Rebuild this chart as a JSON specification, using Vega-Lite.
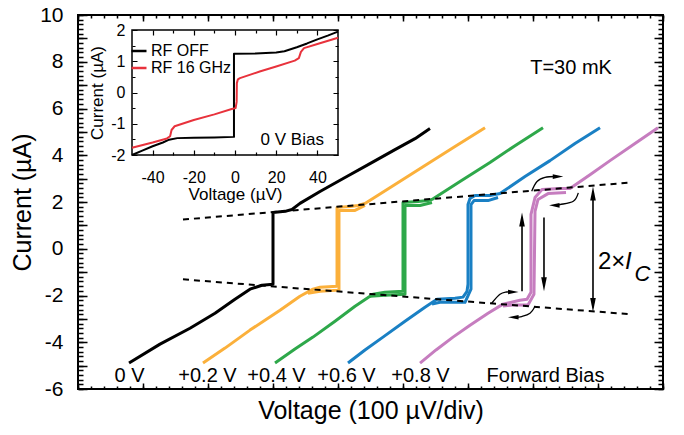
{
"$schema":"https://vega.github.io/schema/vega-lite/v6.json",
"width":585,"height":374,
"autosize":{"type":"none"},
"padding":{"left":78,"top":15,"right":21,"bottom":46},
"background":"white",
"config":{"view":{"stroke":"black","strokeWidth":2},"font":"Liberation Sans","axis":{"grid":false,"domain":false,"ticks":false,"tickSize":0,"gridColor":"black","gridOpacity":1,"labelColor":"black","titleColor":"black","titleFontWeight":"normal","labelFont":"Liberation Sans","titleFont":"Liberation Sans","labelOverlap":false,"labelFlush":false},"text":{"font":"Liberation Sans","color":"black"}},
"datasets":{
"curves":[
{"s":"0","t":"u","i":1,"v":78.5,"c":-4.89},{"s":"0","t":"u","i":2,"v":126.2,"c":-4.08},{"s":"0","t":"u","i":3,"v":172.3,"c":-3.4},{"s":"0","t":"u","i":4,"v":210.8,"c":-2.76},{"s":"0","t":"u","i":5,"v":241.5,"c":-2.16},{"s":"0","t":"u","i":6,"v":264.6,"c":-1.73},{"s":"0","t":"u","i":7,"v":283.1,"c":-1.56},{"s":"0","t":"u","i":8,"v":300,"c":-1.52},{"s":"0","t":"u","i":9,"v":300,"c":1.55},{"s":"0","t":"u","i":10,"v":318.5,"c":1.6},{"s":"0","t":"u","i":11,"v":329.2,"c":1.68},{"s":"0","t":"u","i":12,"v":341.5,"c":1.94},{"s":"0","t":"u","i":13,"v":372.3,"c":2.45},{"s":"0","t":"u","i":14,"v":410.8,"c":3.05},{"s":"0","t":"u","i":15,"v":449.2,"c":3.64},{"s":"0","t":"u","i":16,"v":487.7,"c":4.24},{"s":"0","t":"u","i":17,"v":518.5,"c":4.71},{"s":"0","t":"u","i":18,"v":541.5,"c":5.14},
{"s":"0.2","t":"u","i":1,"v":192.3,"c":-4.89},{"s":"0.2","t":"u","i":2,"v":226.2,"c":-4.25},{"s":"0.2","t":"u","i":3,"v":264.6,"c":-3.48},{"s":"0.2","t":"u","i":4,"v":310.8,"c":-2.63},{"s":"0.2","t":"u","i":5,"v":341.5,"c":-2.03},{"s":"0.2","t":"u","i":6,"v":361.5,"c":-1.73},{"s":"0.2","t":"u","i":7,"v":372.3,"c":-1.65},{"s":"0.2","t":"u","i":8,"v":398.5,"c":-1.6},{"s":"0.2","t":"u","i":9,"v":398.5,"c":1.77},{"s":"0.2","t":"u","i":10,"v":418.5,"c":1.81},{"s":"0.2","t":"u","i":11,"v":430.8,"c":1.85},{"s":"0.2","t":"u","i":12,"v":441.5,"c":1.94},{"s":"0.2","t":"u","i":13,"v":487.7,"c":2.75},{"s":"0.2","t":"u","i":14,"v":533.8,"c":3.56},{"s":"0.2","t":"u","i":15,"v":580,"c":4.37},{"s":"0.2","t":"u","i":16,"v":626.2,"c":5.18},
{"s":"0.2","t":"d","i":1,"v":441.5,"c":1.85},{"s":"0.2","t":"d","i":2,"v":426.2,"c":1.64},{"s":"0.2","t":"d","i":3,"v":401.5,"c":1.64},{"s":"0.2","t":"d","i":4,"v":401.5,"c":-1.77},{"s":"0.2","t":"d","i":5,"v":372.3,"c":-1.82},{"s":"0.2","t":"d","i":6,"v":353.8,"c":-1.9},
{"s":"0.4","t":"u","i":1,"v":303.1,"c":-4.89},{"s":"0.4","t":"u","i":2,"v":333.8,"c":-4.29},{"s":"0.4","t":"u","i":3,"v":361.5,"c":-3.78},{"s":"0.4","t":"u","i":4,"v":395.4,"c":-3.1},{"s":"0.4","t":"u","i":5,"v":426.2,"c":-2.46},{"s":"0.4","t":"u","i":6,"v":453.8,"c":-1.95},{"s":"0.4","t":"u","i":7,"v":472.3,"c":-1.86},{"s":"0.4","t":"u","i":8,"v":500,"c":-1.82},{"s":"0.4","t":"u","i":9,"v":500,"c":1.98},{"s":"0.4","t":"u","i":10,"v":523.1,"c":2.02},{"s":"0.4","t":"u","i":11,"v":538.5,"c":2.06},{"s":"0.4","t":"u","i":12,"v":544.6,"c":2.11},{"s":"0.4","t":"u","i":13,"v":587.7,"c":2.88},{"s":"0.4","t":"u","i":14,"v":633.8,"c":3.69},{"s":"0.4","t":"u","i":15,"v":672.3,"c":4.41},{"s":"0.4","t":"u","i":16,"v":715.4,"c":5.18},
{"s":"0.4","t":"d","i":1,"v":544.6,"c":1.98},{"s":"0.4","t":"d","i":2,"v":526.2,"c":1.85},{"s":"0.4","t":"d","i":3,"v":503.1,"c":1.85},{"s":"0.4","t":"d","i":4,"v":503.1,"c":-1.95},{"s":"0.4","t":"d","i":5,"v":472.3,"c":-1.99},{"s":"0.4","t":"d","i":6,"v":449.2,"c":-2.03},
{"s":"0.6","t":"u","i":1,"v":415.4,"c":-4.89},{"s":"0.6","t":"u","i":2,"v":441.5,"c":-4.33},{"s":"0.6","t":"u","i":3,"v":469.2,"c":-3.78},{"s":"0.6","t":"u","i":4,"v":503.1,"c":-3.1},{"s":"0.6","t":"u","i":5,"v":533.8,"c":-2.5},{"s":"0.6","t":"u","i":6,"v":552.3,"c":-2.16},{"s":"0.6","t":"u","i":7,"v":580,"c":-2.12},{"s":"0.6","t":"u","i":8,"v":592.3,"c":-2.07},{"s":"0.6","t":"u","i":9,"v":598.5,"c":-1.82},{"s":"0.6","t":"u","i":10,"v":600,"c":-1.52},{"s":"0.6","t":"u","i":11,"v":600,"c":1.89},{"s":"0.6","t":"u","i":12,"v":603.1,"c":2.15},{"s":"0.6","t":"u","i":13,"v":610.8,"c":2.28},{"s":"0.6","t":"u","i":14,"v":633.8,"c":2.28},{"s":"0.6","t":"u","i":15,"v":649.2,"c":2.36},{"s":"0.6","t":"u","i":16,"v":687.7,"c":3.09},{"s":"0.6","t":"u","i":17,"v":726.2,"c":3.77},{"s":"0.6","t":"u","i":18,"v":764.6,"c":4.5},{"s":"0.6","t":"u","i":19,"v":803.1,"c":5.18},
{"s":"0.6","t":"d","i":1,"v":646.2,"c":2.19},{"s":"0.6","t":"d","i":2,"v":630.8,"c":2.06},{"s":"0.6","t":"d","i":3,"v":609.2,"c":2.06},{"s":"0.6","t":"d","i":4,"v":604.6,"c":1.89},{"s":"0.6","t":"d","i":5,"v":604.6,"c":-1.73},{"s":"0.6","t":"d","i":6,"v":595.4,"c":-2.29},{"s":"0.6","t":"d","i":7,"v":556.9,"c":-2.29},{"s":"0.6","t":"d","i":8,"v":544.6,"c":-2.37},
{"s":"0.8","t":"u","i":1,"v":526.2,"c":-4.89},{"s":"0.8","t":"u","i":2,"v":550.8,"c":-4.33},{"s":"0.8","t":"u","i":3,"v":576.9,"c":-3.78},{"s":"0.8","t":"u","i":4,"v":603.1,"c":-3.27},{"s":"0.8","t":"u","i":5,"v":630.8,"c":-2.76},{"s":"0.8","t":"u","i":6,"v":653.8,"c":-2.37},{"s":"0.8","t":"u","i":7,"v":680,"c":-2.2},{"s":"0.8","t":"u","i":8,"v":690.8,"c":-2.16},{"s":"0.8","t":"u","i":9,"v":696.9,"c":-1.86},{"s":"0.8","t":"u","i":10,"v":696.9,"c":1.47},{"s":"0.8","t":"u","i":11,"v":703.1,"c":2.19},{"s":"0.8","t":"u","i":12,"v":713.8,"c":2.53},{"s":"0.8","t":"u","i":13,"v":741.5,"c":2.58},{"s":"0.8","t":"u","i":14,"v":756.9,"c":2.58},{"s":"0.8","t":"u","i":15,"v":787.7,"c":3.17},{"s":"0.8","t":"u","i":16,"v":818.5,"c":3.77},{"s":"0.8","t":"u","i":17,"v":856.9,"c":4.5},{"s":"0.8","t":"u","i":18,"v":892.3,"c":5.18},
{"s":"0.8","t":"d","i":1,"v":750.8,"c":2.41},{"s":"0.8","t":"d","i":2,"v":723.1,"c":2.36},{"s":"0.8","t":"d","i":3,"v":707.7,"c":2.11},{"s":"0.8","t":"d","i":4,"v":703.1,"c":1.6},{"s":"0.8","t":"d","i":5,"v":701.5,"c":-1.95},{"s":"0.8","t":"d","i":6,"v":692.3,"c":-2.41},{"s":"0.8","t":"d","i":7,"v":667.7,"c":-2.41},{"s":"0.8","t":"d","i":8,"v":653.8,"c":-2.45}
],
"dashes":[{"k":"a","v":161.5,"c":1.25},{"k":"a","v":849.2,"c":2.83},{"k":"b","v":161.5,"c":-1.31},{"k":"b","v":849.2,"c":-2.8}],
"shafts":[{"v":792.3,"c":2.45,"c2":-2.5},{"v":683.1,"c":-1.82,"c2":1.3},{"v":716.9,"c":1.34,"c2":-1.5}],
"heads":[{"v":792.3,"c":2.36,"d":"u"},{"v":792.3,"c":-2.41,"d":"d"},{"v":683.1,"c":1.25,"d":"u"},{"v":716.9,"c":-1.52,"d":"d"}],
"heads2":[{"v":738.5,"c":3.09,"d":"r"},{"v":732.8,"c":1.86,"d":"l"},{"v":669.7,"c":-1.85,"d":"r"},{"v":669.7,"c":-2.93,"d":"l"}],
"carrows":[
{"a":"1","i":1,"v":698,"c":2.46},{"a":"1","i":2,"v":706.2,"c":2.88},{"a":"1","i":3,"v":718.5,"c":3.05},{"a":"1","i":4,"v":735,"c":3.09},
{"a":"2","i":1,"v":769.7,"c":2.39},{"a":"2","i":2,"v":762,"c":2.03},{"a":"2","i":3,"v":741.5,"c":1.89},{"a":"2","i":4,"v":736,"c":1.86},
{"a":"3","i":1,"v":636.5,"c":-2.33},{"a":"3","i":2,"v":649.2,"c":-1.95},{"a":"3","i":3,"v":659.5,"c":-1.85},{"a":"3","i":4,"v":666,"c":-1.85},
{"a":"4","i":1,"v":703.1,"c":-2.47},{"a":"4","i":2,"v":695.4,"c":-2.76},{"a":"4","i":3,"v":682.6,"c":-2.9},{"a":"4","i":4,"v":673,"c":-2.93}
],
"blabels":[{"txt":"0 V","v":79.2,"c":-5.44},{"txt":"+0.2 V","v":199.2,"c":-5.44},{"txt":"+0.4 V","v":305.4,"c":-5.44},{"txt":"+0.6 V","v":413.1,"c":-5.44},{"txt":"+0.8 V","v":526.9,"c":-5.44},{"txt":"Forward Bias","v":719.2,"c":-5.44}],
"frame":[{"v":-50,"v2":50,"c":-2,"c2":2}],
"inset":[
{"s":"RF OFF","i":1,"v":-50,"c":-2.0},{"s":"RF OFF","i":2,"v":-45,"c":-1.86},{"s":"RF OFF","i":3,"v":-40,"c":-1.72},{"s":"RF OFF","i":4,"v":-35,"c":-1.6},{"s":"RF OFF","i":5,"v":-32,"c":-1.51},{"s":"RF OFF","i":6,"v":-28,"c":-1.46},{"s":"RF OFF","i":7,"v":-20,"c":-1.45},{"s":"RF OFF","i":8,"v":-10,"c":-1.44},{"s":"RF OFF","i":9,"v":-0.5,"c":-1.42},{"s":"RF OFF","i":10,"v":-0.5,"c":1.24},{"s":"RF OFF","i":11,"v":10,"c":1.25},{"s":"RF OFF","i":12,"v":20,"c":1.28},{"s":"RF OFF","i":13,"v":24,"c":1.32},{"s":"RF OFF","i":14,"v":30,"c":1.45},{"s":"RF OFF","i":15,"v":35,"c":1.57},{"s":"RF OFF","i":16,"v":40,"c":1.7},{"s":"RF OFF","i":17,"v":45,"c":1.82},{"s":"RF OFF","i":18,"v":50,"c":1.95},
{"s":"RF 16 GHz","i":1,"v":-50,"c":-1.77},{"s":"RF 16 GHz","i":2,"v":-40,"c":-1.6},{"s":"RF 16 GHz","i":3,"v":-33,"c":-1.47},{"s":"RF 16 GHz","i":4,"v":-31.5,"c":-1.4},{"s":"RF 16 GHz","i":5,"v":-30.8,"c":-1.2},{"s":"RF 16 GHz","i":6,"v":-29.3,"c":-1.08},{"s":"RF 16 GHz","i":7,"v":-20,"c":-0.88},{"s":"RF 16 GHz","i":8,"v":-10,"c":-0.7},{"s":"RF 16 GHz","i":9,"v":-1.6,"c":-0.53},{"s":"RF 16 GHz","i":10,"v":0.3,"c":-0.5},{"s":"RF 16 GHz","i":11,"v":0.8,"c":-0.3},{"s":"RF 16 GHz","i":12,"v":0.9,"c":0.3},{"s":"RF 16 GHz","i":13,"v":1.4,"c":0.42},{"s":"RF 16 GHz","i":14,"v":2.4,"c":0.46},{"s":"RF 16 GHz","i":15,"v":12,"c":0.67},{"s":"RF 16 GHz","i":16,"v":20,"c":0.83},{"s":"RF 16 GHz","i":17,"v":29,"c":1.02},{"s":"RF 16 GHz","i":18,"v":31,"c":1.1},{"s":"RF 16 GHz","i":19,"v":32,"c":1.3},{"s":"RF 16 GHz","i":20,"v":33.5,"c":1.42},{"s":"RF 16 GHz","i":21,"v":40,"c":1.55},{"s":"RF 16 GHz","i":22,"v":50,"c":1.75}
]
},
"layer":[
{"layer":[
 {"data":{"name":"curves"},"mark":{"type":"line","strokeWidth":3,"strokeJoin":"round"},
  "encoding":{
   "x":{"field":"v","type":"quantitative","scale":{"domain":[0,900],"nice":false,"zero":false},
     "axis":{"orient":"bottom","values":[0,100,200,300,400,500,600,700,800,900],"labels":false,
       "grid":true,"gridDash":[6,362,6,1000],"gridWidth":1.5,"gridColor":"black",
       "title":"Voltage (100 µV/div)","titleFontSize":25,"titlePadding":9}},
   "y":{"field":"c","type":"quantitative","scale":{"domain":[-6,10],"nice":false,"zero":false},
     "axis":{"orient":"left","values":[-6,-5,-4,-3,-2,-1,0,1,2,3,4,5,6,7,8,9,10],
       "grid":true,"gridDash":[9,567,9,1000],"gridWidth":1.5,"gridColor":"black",
       "labelExpr":"datum.value % 2 == 0 ? ''+datum.value : ''","labelFontSize":21,"labelPadding":15,
       "title":"Current (µA)","titleFontSize":25,"titlePadding":4}},
   "color":{"field":"s","type":"nominal","scale":{"domain":["0","0.2","0.4","0.6","0.8"],"range":["#000000","#fbb03b","#2ea84a","#1a80c4","#c67dbf"]},"legend":null},
   "detail":{"field":"t"},
   "order":{"field":"i","type":"quantitative"}}},
 {"data":{"name":"dashes"},"mark":{"type":"line","strokeDash":[6,5],"strokeWidth":2,"color":"black"},
  "encoding":{
   "x":{"field":"v","type":"quantitative","scale":{"domain":[0,900],"nice":false,"zero":false},
     "axis":{"orient":"top","values":[0,20,40,60,80,100,120,140,160,180,200,220,240,260,280,300,320,340,360,380,400,420,440,460,480,500,520,540,560,580,600,620,640,660,680,700,720,740,760,780,800,820,840,860,880,900],
       "grid":true,"gridDash":[3,368,3,1000],"gridWidth":1.5,"gridColor":"black","labels":false,"title":null}},
   "y":{"field":"c","type":"quantitative","scale":{"domain":[-6,10],"nice":false,"zero":false},
     "axis":{"orient":"right","values":[-6,-5.8,-5.6,-5.4,-5.2,-5,-4.8,-4.6,-4.4,-4.2,-4,-3.8,-3.6,-3.4,-3.2,-3,-2.8,-2.6,-2.4,-2.2,-2,-1.8,-1.6,-1.4,-1.2,-1,-0.8,-0.6,-0.4,-0.2,0,0.2,0.4,0.6,0.8,1,1.2,1.4,1.6,1.8,2,2.2,2.4,2.6,2.8,3,3.2,3.4,3.6,3.8,4,4.2,4.4,4.6,4.8,5,5.2,5.4,5.6,5.8,6,6.2,6.4,6.6,6.8,7,7.2,7.4,7.6,7.8,8,8.2,8.4,8.6,8.8,9,9.2,9.4,9.6,9.8,10],
       "grid":true,"gridDash":[5,575,5,1000],"gridWidth":1.5,"gridColor":"black","labels":false,"title":null}},
   "detail":{"field":"k"}}},
 {"data":{"name":"shafts"},"mark":{"type":"rule","strokeWidth":1.6,"color":"black"},
  "encoding":{"x":{"field":"v","type":"quantitative","axis":null},"y":{"field":"c","type":"quantitative","axis":null},"y2":{"field":"c2"}}},
 {"data":{"name":"heads"},"mark":{"type":"point","filled":true,"opacity":1,"color":"black","size":196,"strokeWidth":0},
  "encoding":{"x":{"field":"v","type":"quantitative","axis":null},"y":{"field":"c","type":"quantitative","axis":null},
   "shape":{"field":"d","type":"nominal","scale":{"domain":["u","d","r","l"],"range":["M0,-1L-0.4,1L0.4,1Z","M0,1L-0.4,-1L0.4,-1Z","M1,0L-1,-0.45L-1,0.45Z","M-1,0L1,-0.45L1,0.45Z"]},"legend":null}}},
 {"data":{"name":"heads2"},"mark":{"type":"point","filled":true,"opacity":1,"color":"black","size":110,"strokeWidth":0},
  "encoding":{"x":{"field":"v","type":"quantitative","axis":null},"y":{"field":"c","type":"quantitative","axis":null},
   "shape":{"field":"d","type":"nominal","legend":null}}},
 {"data":{"name":"carrows"},"mark":{"type":"line","interpolate":"cardinal","strokeWidth":1.3,"color":"black"},
  "encoding":{"x":{"field":"v","type":"quantitative","axis":null},"y":{"field":"c","type":"quantitative","axis":null},"detail":{"field":"a"},"order":{"field":"i","type":"quantitative"}}},
 {"data":{"name":"blabels"},"mark":{"type":"text","fontSize":20,"align":"center","baseline":"middle"},
  "encoding":{"x":{"field":"v","type":"quantitative","axis":null},"y":{"field":"c","type":"quantitative","axis":null},"text":{"field":"txt"}}},
 {"data":{"values":[{"txt":"T=30 mK","v":758.5,"c":7.74}]},"mark":{"type":"text","fontSize":20,"align":"center","baseline":"middle"},
  "encoding":{"x":{"field":"v","type":"quantitative","axis":null},"y":{"field":"c","type":"quantitative","axis":null},"text":{"field":"txt"}}},
 {"data":{"values":[{"txt":"2×","v":800,"c":-0.88}]},"mark":{"type":"text","fontSize":24,"align":"left","baseline":"alphabetic"},
  "encoding":{"x":{"field":"v","type":"quantitative","axis":null},"y":{"field":"c","type":"quantitative","axis":null},"text":{"field":"txt"}}},
 {"data":{"values":[{"txt":"I","v":841.5,"c":-0.88}]},"mark":{"type":"text","fontSize":24,"fontStyle":"italic","align":"left","baseline":"alphabetic"},
  "encoding":{"x":{"field":"v","type":"quantitative","axis":null},"y":{"field":"c","type":"quantitative","axis":null},"text":{"field":"txt"}}},
 {"data":{"values":[{"txt":"C","v":856,"c":-1.39}]},"mark":{"type":"text","fontSize":22,"fontStyle":"italic","align":"left","baseline":"alphabetic"},
  "encoding":{"x":{"field":"v","type":"quantitative","axis":null},"y":{"field":"c","type":"quantitative","axis":null},"text":{"field":"txt"}}}
],
"resolve":{"axis":{"x":"independent","y":"independent"}}},
{"layer":[
 {"data":{"name":"frame"},"mark":{"type":"rect","fill":null,"stroke":"black","strokeWidth":1.5},
  "encoding":{
   "x":{"field":"v","type":"quantitative","scale":{"domain":[-50,50],"range":[54,260],"nice":false,"zero":false},
     "axis":{"orient":"bottom","offset":-234,"values":[-40,-20,0,20,40],
       "labelExpr":"''+datum.value","labelFontSize":16,"labelPadding":14,
       "title":"Voltage (µV)","titleFontSize":17,"titlePadding":1}},
   "x2":{"field":"v2"},
   "y":{"field":"c","type":"quantitative","scale":{"domain":[-2,2],"range":[140,15],"nice":false,"zero":false},
     "axis":{"orient":"left","offset":-54,"values":[-2,-1,0,1,2],
       "grid":true,"gridDash":[5,196,5,1000],"gridWidth":1.2,"gridColor":"black",
       "labelExpr":"''+datum.value","labelFontSize":16,"labelPadding":7,
       "title":"Current (µA)","titleFontSize":17,"titlePadding":4}},
   "y2":{"field":"c2"}}},
 {"data":{"name":"inset"},"mark":{"type":"line","strokeWidth":2,"strokeJoin":"round"},
  "encoding":{
   "x":{"field":"v","type":"quantitative","scale":{"domain":[-50,50],"range":[54,260],"nice":false,"zero":false},
     "axis":{"orient":"top","values":[-40,-20,0,20,40],"grid":true,"gridDash":[5,115,5,1000],"gridWidth":1.2,"gridColor":"black","labels":false,"title":null}},
   "y":{"field":"c","type":"quantitative","scale":{"domain":[-2,2],"range":[140,15],"nice":false,"zero":false},
     "axis":{"orient":"left","values":[-1.5,-0.5,0.5,1.5],"grid":true,"gridDash":[3,200,3,1000],"gridWidth":1.2,"gridColor":"black","labels":false,"title":null}},
   "color":{"field":"s","type":"nominal","scale":{"domain":["RF OFF","RF 16 GHz"],"range":["#000000","#e8323c"]},
     "legend":{"orient":"none","legendX":52,"legendY":27,"title":null,"symbolType":"stroke","symbolSize":225,"symbolStrokeWidth":2.5,"labelFontSize":16,"labelFont":"Liberation Sans","labelColor":"black","labelOffset":3,"rowPadding":0,"padding":0}},
   "order":{"field":"i","type":"quantitative"}}},
 {"data":{"values":[{"txt":"0 V Bias","v":27.8,"c":-1.51}]},"mark":{"type":"text","fontSize":17,"align":"center","baseline":"middle"},
  "encoding":{
   "x":{"field":"v","type":"quantitative","scale":{"domain":[-50,50],"range":[54,260],"nice":false,"zero":false},
     "axis":{"orient":"top","values":[-30,-10,10,30],"grid":true,"gridDash":[3,119,3,1000],"gridWidth":1.2,"gridColor":"black","labels":false,"title":null}},
   "y":{"field":"c","type":"quantitative","scale":{"domain":[-2,2],"range":[140,15],"nice":false,"zero":false},"axis":null},
   "text":{"field":"txt"}}}
],
"resolve":{"axis":{"x":"independent","y":"independent"}}}
],
"resolve":{"scale":{"x":"independent","y":"independent","color":"independent"},"axis":{"x":"independent","y":"independent"}}
}
